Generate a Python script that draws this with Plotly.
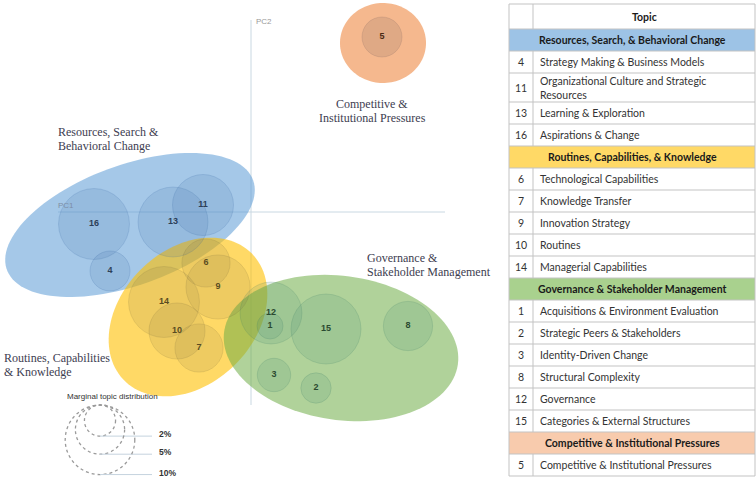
import numpy as np
import textwrap
import plotly.graph_objects as go

# ---------------- data ----------------
group_names = ["Resources, Search, & Behavioral Change",
               "Routines, Capabilities, & Knowledge",
               "Governance & Stakeholder Management",
               "Competitive & Institutional Pressures"]
group_plot_labels = [["Resources, Search &", "Behavioral Change"],
                     ["Routines, Capabilities", "& Knowledge"],
                     ["Governance &", "Stakeholder Management"],
                     ["Competitive &", "Institutional Pressures"]]

topic_ids = list(range(1, 17))
topic_names = ["Acquisitions & Environment Evaluation",
               "Strategic Peers & Stakeholders",
               "Identity-Driven Change",
               "Strategy Making & Business Models",
               "Competitive & Institutional Pressures",
               "Technological Capabilities",
               "Knowledge Transfer",
               "Structural Complexity",
               "Innovation Strategy",
               "Routines",
               "Organizational Culture and Strategic Resources",
               "Governance",
               "Learning & Exploration",
               "Managerial Capabilities",
               "Categories & External Structures",
               "Aspirations & Change"]
topic_group = [2, 2, 2, 0, 3, 1, 1, 2, 1, 1, 0, 2, 0, 1, 2, 0]
pc1 = [0.19, 0.65, 0.23, -1.41, 1.31, -0.45, -0.52, 1.57, -0.33, -0.74, -0.48, 0.20, -0.78, -0.87, 0.75, -1.57]
pc2 = [-1.14, -1.76, -1.63, -0.59, 1.75, -0.51, -1.36, -1.14, -0.75, -1.19, 0.07, -1.01, -0.10, -0.90, -1.17, -0.12]
marginal_pct = [1.4, 1.9, 2.3, 3.3, 3.3, 4.8, 4.8, 5.0, 8.5, 6.5, 7.7, 7.9, 10.1, 10.4, 10.1, 10.4]

# cluster hull ellipses (PC units): centre pc1, centre pc2, semi-axes, angle (deg)
hull_pc1 = [-1.21, -0.63, 0.90, 1.32]
hull_pc2 = [-0.13, -1.05, -1.36, 1.69]
hull_a = [1.31, 0.90, 1.18, 0.43]
hull_b = [0.60, 0.67, 0.72, 0.40]
hull_angle = [20, 45, -8, 0]

legend_pct = [2, 5, 10]
legend_labels = ["2%", "5%", "10%"]

# ---------------- styles ----------------
W, H = 756, 479
PX = 100.0                      # pixels per PC unit
ORIGIN = (251, 212)             # pixel position of PC origin
K = 11.0                        # bubble radius px per sqrt(%)

hull_fill = ["rgba(91,155,213,0.55)", "rgba(255,192,0,0.60)",
             "rgba(112,173,71,0.55)", "rgba(237,125,49,0.55)"]
bubble_fill = ["rgba(50,100,160,0.18)", "rgba(110,100,60,0.16)",
               "rgba(50,130,110,0.18)", "rgba(110,90,90,0.22)"]
bubble_line = ["rgba(50,100,160,0.25)", "rgba(110,100,60,0.22)",
               "rgba(50,120,100,0.25)", "rgba(110,90,90,0.25)"]
bubble_text = ["#2d3f58", "#5a4c22", "#2b4a30", "#4a2a14"]
table_fill = ["#9dc3e6", "#ffd966", "#a9d18e", "#f8cbad"]
label_color = "#3d3d50"
axis_line = "#c9d8e2"
grid = "#c3c3c3"
serif = "Liberation Serif, Times New Roman, serif"
sans = "Liberation Sans, Arial, sans-serif"
tfont = "Lato, Liberation Sans, sans-serif"

fig = go.Figure()
shapes = []
annots = []

# axis lines
shapes.append(dict(type="line", xref="x", yref="y", x0=0, x1=0, y0=1.92, y1=-1.93,
                   line=dict(color=axis_line, width=1), layer="below"))
shapes.append(dict(type="line", xref="x", yref="y", x0=-1.93, x1=1.94, y0=0, y1=0,
                   line=dict(color=axis_line, width=1), layer="below"))
annots.append(dict(xref="x", yref="y", x=0.03, y=1.905, text="PC2", showarrow=False,
                   xanchor="left", yanchor="middle", font=dict(family=sans, size=8, color="#999999")))
annots.append(dict(xref="x", yref="y", x=-1.95, y=0.065, text="PC1", showarrow=False,
                   xanchor="left", yanchor="middle", font=dict(family=sans, size=8, color="#7d8ea6")))

# hull ellipses
t = np.linspace(0, 2 * np.pi, 120)
for g in range(4):
    th = np.deg2rad(hull_angle[g])
    ex = hull_pc1[g] + hull_a[g] * np.cos(t) * np.cos(th) - hull_b[g] * np.sin(t) * np.sin(th)
    ey = hull_pc2[g] + hull_a[g] * np.cos(t) * np.sin(th) + hull_b[g] * np.sin(t) * np.cos(th)
    path = "M " + " L ".join(f"{x:.4f},{y:.4f}" for x, y in zip(ex, ey)) + " Z"
    shapes.append(dict(type="path", xref="x", yref="y", path=path,
                       fillcolor=hull_fill[g], line=dict(width=0), layer="below"))

# topic bubbles
for g in range(4):
    idx = [i for i in range(16) if topic_group[i] == g]
    fig.add_trace(go.Scatter(
        x=[pc1[i] for i in idx], y=[pc2[i] for i in idx],
        mode="markers+text",
        text=[f"<b>{topic_ids[i]}</b>" for i in idx],
        textposition="middle center",
        textfont=dict(family=sans, size=9, color=bubble_text[g]),
        marker=dict(size=[2 * K * np.sqrt(marginal_pct[i]) for i in idx],
                    sizemode="diameter", color=bubble_fill[g],
                    line=dict(color=bubble_line[g], width=1)),
        hoverinfo="skip", showlegend=False))

# cluster labels (pixel coords on x2/y2), one annotation per line
label_pos = [(56, 132, "left"), (2, 358, "left"), (365, 258, "left"), (372, 104, "center")]
LINE_GAP = 13.5
for g in range(4):
    x, y, al = label_pos[g]
    for j, line in enumerate(group_plot_labels[g]):
        annots.append(dict(xref="x2", yref="y2", x=x, y=y + j * LINE_GAP, text=line,
                           showarrow=False, xanchor="left" if al == "left" else "center",
                           yanchor="middle", align=al,
                           font=dict(family=serif, size=12, color=label_color)))

# marginal legend
annots.append(dict(xref="x2", yref="y2", x=65, y=396, text="Marginal topic distribution",
                   showarrow=False, xanchor="left", yanchor="middle",
                   font=dict(family=sans, size=8, color="#333")))
LTOP, LCX = 405, 100
for p, lab in zip(legend_pct, legend_labels):
    r = K * np.sqrt(p)
    shapes.append(dict(type="circle", xref="x2", yref="y2", x0=LCX - r, x1=LCX + r,
                       y0=LTOP, y1=LTOP + 2 * r,
                       line=dict(color="#9a9a9a", width=1.3, dash="dot")))
    yb = LTOP + 2 * r
    shapes.append(dict(type="line", xref="x2", yref="y2", x0=LCX, x1=152, y0=yb, y1=yb,
                       line=dict(color="#c5d3de", width=1)))
    annots.append(dict(xref="x2", yref="y2", x=157, y=yb - 2, text=f"<b>{lab}</b>",
                       showarrow=False, xanchor="left", yanchor="middle",
                       font=dict(family=sans, size=8.5, color="#333")))

# ---------------- table ----------------
TX0, TX1, TXD = 509, 755, 533
y = 4
rows = []   # (kind, y0, y1, payload)
rows.append(("head", y, y + 25, None)); y += 25
for g in range(4):
    rows.append(("group", y, y + 22, g)); y += 22
    for i in sorted([i for i in range(16) if topic_group[i] == g], key=lambda i: topic_ids[i]):
        lines = textwrap.wrap(topic_names[i], 37)
        h = 22 + 7 * (len(lines) - 1)
        rows.append(("topic", y, y + h, (topic_ids[i], "<br>".join(lines)))); y += h

for kind, y0, y1, pl in rows:
    if kind == "group":
        shapes.append(dict(type="rect", xref="x2", yref="y2", x0=TX0, x1=TX1, y0=y0, y1=y1,
                           fillcolor=table_fill[pl], line=dict(width=0), layer="below"))
        annots.append(dict(xref="x2", yref="y2", x=(TX0 + TX1) / 2, y=(y0 + y1) / 2,
                           text=f"<b>{group_names[pl]}</b>", showarrow=False,
                           xanchor="center", yanchor="middle",
                           font=dict(family=tfont, size=10.5, color="#1a1a1a")))
    else:
        shapes.append(dict(type="line", xref="x2", yref="y2", x0=TXD, x1=TXD, y0=y0, y1=y1,
                           line=dict(color=grid, width=1)))
        if kind == "head":
            annots.append(dict(xref="x2", yref="y2", x=(TXD + TX1) / 2, y=(y0 + y1) / 2,
                               text="<b>Topic</b>", showarrow=False, xanchor="center",
                               yanchor="middle", font=dict(family=tfont, size=10.5, color="#1a1a1a")))
        else:
            tid, name = pl
            annots.append(dict(xref="x2", yref="y2", x=(TX0 + TXD) / 2, y=(y0 + y1) / 2,
                               text=str(tid), showarrow=False, xanchor="center", yanchor="middle",
                               font=dict(family=tfont, size=10.5, color="#333")))
            annots.append(dict(xref="x2", yref="y2", x=TXD + 5, y=(y0 + y1) / 2,
                               text=name, showarrow=False, xanchor="left", yanchor="middle",
                               align="left", font=dict(family=tfont, size=10.5, color="#333")))
    shapes.append(dict(type="line", xref="x2", yref="y2", x0=TX0, x1=TX1, y0=y1, y1=y1,
                       line=dict(color=grid, width=1)))
shapes.append(dict(type="line", xref="x2", yref="y2", x0=TX0, x1=TX1, y0=rows[0][1], y1=rows[0][1],
                   line=dict(color=grid, width=1)))
shapes.append(dict(type="line", xref="x2", yref="y2", x0=TX0, x1=TX0, y0=rows[0][1], y1=rows[-1][2],
                   line=dict(color=grid, width=1)))
shapes.append(dict(type="line", xref="x2", yref="y2", x0=TX1, x1=TX1, y0=rows[0][1], y1=rows[-1][2],
                   line=dict(color=grid, width=1)))

# invisible anchor trace for the pixel overlay axes
fig.add_trace(go.Scatter(x=[0], y=[0], xaxis="x2", yaxis="y2", mode="markers",
                         marker=dict(opacity=0), hoverinfo="skip", showlegend=False))

fig.update_layout(
    width=W, height=H, margin=dict(l=0, r=0, t=0, b=0),
    paper_bgcolor="white", plot_bgcolor="white", showlegend=False,
    xaxis=dict(range=[-ORIGIN[0] / PX, (W - ORIGIN[0]) / PX], visible=False, fixedrange=True),
    yaxis=dict(range=[-(H - ORIGIN[1]) / PX, ORIGIN[1] / PX], visible=False, fixedrange=True),
    xaxis2=dict(range=[0, W], overlaying="x", anchor="y2", visible=False, fixedrange=True),
    yaxis2=dict(range=[H, 0], overlaying="y", anchor="x2", visible=False, fixedrange=True),
    shapes=shapes, annotations=annots,
)
fig.write_html("out.html", config={"displayModeBar": False},
               post_script="document.body.style.margin='0';document.body.style.padding='0';")
